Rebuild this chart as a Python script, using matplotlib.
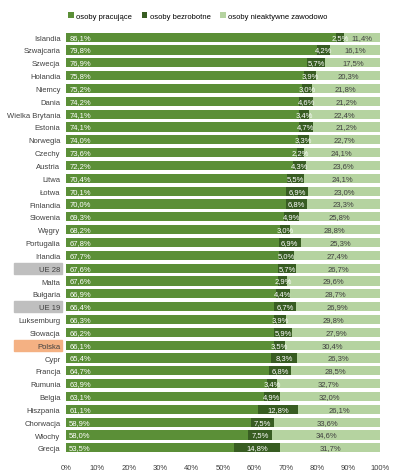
import matplotlib.pyplot as plt
import matplotlib.transforms as mtransforms
from matplotlib.patches import Rectangle
import numpy as np

countries = ["Islandia", "Szwajcaria", "Szwecja", "Holandia", "Niemcy", "Dania",
             "Wielka Brytania", "Estonia", "Norwegia", "Czechy", "Austria", "Litwa",
             "Łotwa", "Finlandia", "Słowenia", "Węgry", "Portugalia", "Irlandia",
             "UE 28", "Malta", "Bułgaria", "UE 19", "Luksemburg", "Słowacja",
             "Polska", "Cypr", "Francja", "Rumunia", "Belgia", "Hiszpania",
             "Chorwacja", "Włochy", "Grecja"]
pracujace = [86.1, 79.8, 76.9, 75.8, 75.2, 74.2, 74.1, 74.1, 74.0, 73.6, 72.2, 70.4,
             70.1, 70.0, 69.3, 68.2, 67.8, 67.7, 67.6, 67.6, 66.9, 66.4, 66.3, 66.2,
             66.1, 65.4, 64.7, 63.9, 63.1, 61.1, 58.9, 58.0, 53.5]
bezrobotne = [2.5, 4.2, 5.7, 3.9, 3.0, 4.6, 3.4, 4.7, 3.3, 2.2, 4.3, 5.5,
              6.9, 6.8, 4.9, 3.0, 6.9, 5.0, 5.7, 2.9, 4.4, 6.7, 3.9, 5.9,
              3.5, 8.3, 6.8, 3.4, 4.9, 12.8, 7.5, 7.5, 14.8]
nieaktywne = [11.4, 16.1, 17.5, 20.3, 21.8, 21.2, 22.4, 21.2, 22.7, 24.1, 23.6, 24.1,
              23.0, 23.3, 25.8, 28.8, 25.3, 27.4, 26.7, 29.6, 28.7, 26.9, 29.8, 27.9,
              30.4, 26.3, 28.5, 32.7, 32.0, 26.1, 33.6, 34.6, 31.7]
series_names = ["osoby pracujące", "osoby bezrobotne", "osoby nieaktywne zawodowo"]

c1, c2, c3 = "#5b8f37", "#385d22", "#b5d3a0"
plt.rcParams['font.family'] = ['Liberation Sans', 'DejaVu Sans']

fig = plt.figure(figsize=(4, 4.77), dpi=100)
ax = fig.add_axes([0.165, 0.0455, 0.785, 0.888])

y = np.arange(len(countries))
p = np.array(pracujace) / 100
b = np.array(bezrobotne) / 100
n = np.array(nieaktywne) / 100
h = 0.72
ax.barh(y, p, height=h, color=c1, label=series_names[0])
ax.barh(y, b, left=p, height=h, color=c2, label=series_names[1])
ax.barh(y, n, left=p + b, height=h, color=c3, label=series_names[2])

def fmt(v):
    return f"{v:.1f}%".replace(".", ",")

fs = 5.5
for i in range(len(countries)):
    ax.text(0.01, i, fmt(pracujace[i]), color="white", fontsize=fs, va="center", ha="left")
    ax.text(p[i] + b[i] / 2, i, fmt(bezrobotne[i]), color="white", fontsize=fs, va="center", ha="center")
    ax.text(p[i] + b[i] + n[i] / 2, i, fmt(nieaktywne[i]), color="#404040", fontsize=fs, va="center", ha="center")

ax.set_ylim(len(countries) - 0.5, -0.5)
ax.set_xlim(0, 1)
ax.set_yticks(y)
ax.set_yticklabels(countries, fontsize=fs, color="#404040")
ax.set_xticks(np.arange(0, 1.01, 0.1))
ax.set_xticklabels([f"{int(round(t * 100))}%" for t in np.arange(0, 1.01, 0.1)], fontsize=fs, color="#404040")
ax.tick_params(axis="y", length=0, pad=4)
ax.tick_params(axis="x", length=0, pad=7)
for s in ax.spines.values():
    s.set_visible(False)

# highlight boxes behind selected labels
trans = mtransforms.blended_transform_factory(ax.transAxes, ax.transData)
highlights = {"UE 28": "#bfbfbf", "UE 19": "#bfbfbf", "Polska": "#f4b183"}
for name, col in highlights.items():
    i = countries.index(name)
    ax.add_patch(Rectangle((-0.166, i - 0.43), 0.153, 0.86, transform=trans,
                           color=col, clip_on=False, zorder=0))

ax.legend(loc="upper center", bbox_to_anchor=(0.42, 1.06), ncol=3, frameon=False,
          fontsize=fs, handlelength=0.7, handleheight=0.7, handletextpad=0.3,
          columnspacing=1.3)

fig.savefig("out.png")
